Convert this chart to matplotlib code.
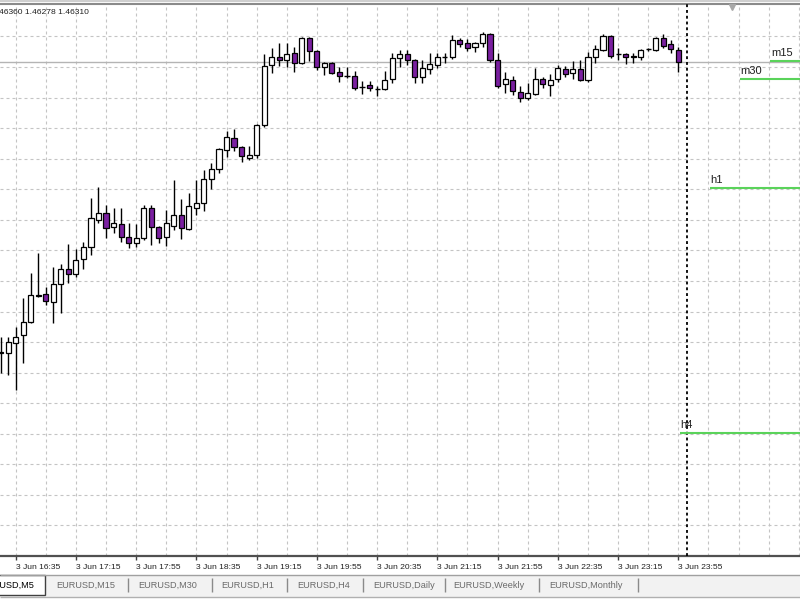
import matplotlib
matplotlib.use('Agg')
import matplotlib.pyplot as plt
import numpy as np
from matplotlib.patches import Rectangle

# ---------------- data (EURUSD M5, 3 Jun, bars from 16:25 to 23:55) ----------------
opens = [
    1.45343, 1.45340, 1.45373, 1.45400, 1.45443, 1.45533, 1.45537, 1.45510, 1.45570, 1.45620,
    1.45603, 1.45653, 1.45693, 1.45783, 1.45807, 1.45760, 1.45770, 1.45727, 1.45707, 1.45723,
    1.45823, 1.45760, 1.45727, 1.45763, 1.45800, 1.45753, 1.45823, 1.45840, 1.45920, 1.45953,
    1.46017, 1.46057, 1.46027, 1.45990, 1.46000, 1.46100, 1.46300, 1.46327, 1.46317, 1.46340,
    1.46307, 1.46390, 1.46347, 1.46293, 1.46307, 1.46277, 1.46263, 1.46263, 1.46227, 1.46233,
    1.46220, 1.46220, 1.46253, 1.46323, 1.46337, 1.46317, 1.46260, 1.46287, 1.46300, 1.46327,
    1.46327, 1.46383, 1.46373, 1.46360, 1.46373, 1.46403, 1.46317, 1.46237, 1.46250, 1.46210,
    1.46190, 1.46203, 1.46253, 1.46233, 1.46253, 1.46287, 1.46273, 1.46287, 1.46250, 1.46327,
    1.46350, 1.46397, 1.46337, 1.46337, 1.46330, 1.46327, 1.46353, 1.46350, 1.46390, 1.46370,
    1.46350]
highs = [
    1.45393, 1.45393, 1.45427, 1.45523, 1.45607, 1.45673, 1.45560, 1.45627, 1.45637, 1.45703,
    1.45687, 1.45710, 1.45857, 1.45893, 1.45833, 1.45823, 1.45823, 1.45773, 1.45770, 1.45833,
    1.45833, 1.45763, 1.45817, 1.45917, 1.45853, 1.45873, 1.45917, 1.45950, 1.45973, 1.46023,
    1.46080, 1.46087, 1.46030, 1.46030, 1.46103, 1.46337, 1.46357, 1.46373, 1.46373, 1.46360,
    1.46393, 1.46393, 1.46350, 1.46310, 1.46310, 1.46293, 1.46293, 1.46280, 1.46247, 1.46247,
    1.46230, 1.46280, 1.46340, 1.46350, 1.46350, 1.46320, 1.46317, 1.46340, 1.46340, 1.46340,
    1.46400, 1.46390, 1.46387, 1.46377, 1.46410, 1.46407, 1.46340, 1.46277, 1.46263, 1.46230,
    1.46240, 1.46290, 1.46260, 1.46270, 1.46300, 1.46297, 1.46313, 1.46317, 1.46343, 1.46367,
    1.46403, 1.46400, 1.46357, 1.46340, 1.46340, 1.46353, 1.46357, 1.46393, 1.46403, 1.46383,
    1.46360]
lows = [
    1.45273, 1.45267, 1.45217, 1.45307, 1.45440, 1.45527, 1.45500, 1.45440, 1.45473, 1.45573,
    1.45593, 1.45620, 1.45667, 1.45773, 1.45723, 1.45740, 1.45710, 1.45690, 1.45693, 1.45717,
    1.45700, 1.45707, 1.45697, 1.45750, 1.45720, 1.45750, 1.45800, 1.45813, 1.45887, 1.45940,
    1.45993, 1.46013, 1.45977, 1.45983, 1.45990, 1.46093, 1.46273, 1.46297, 1.46293, 1.46277,
    1.46303, 1.46313, 1.46283, 1.46267, 1.46270, 1.46243, 1.46257, 1.46217, 1.46203, 1.46213,
    1.46197, 1.46217, 1.46240, 1.46293, 1.46300, 1.46240, 1.46240, 1.46270, 1.46290, 1.46307,
    1.46320, 1.46360, 1.46347, 1.46343, 1.46360, 1.46310, 1.46223, 1.46207, 1.46200, 1.46177,
    1.46183, 1.46200, 1.46223, 1.46197, 1.46243, 1.46260, 1.46253, 1.46247, 1.46243, 1.46307,
    1.46347, 1.46323, 1.46317, 1.46303, 1.46307, 1.46317, 1.46347, 1.46347, 1.46357, 1.46340,
    1.46278]
closes = [
    1.45340, 1.45377, 1.45393, 1.45443, 1.45533, 1.45530, 1.45513, 1.45570, 1.45620, 1.45603,
    1.45650, 1.45693, 1.45790, 1.45807, 1.45757, 1.45773, 1.45727, 1.45707, 1.45723, 1.45823,
    1.45760, 1.45723, 1.45773, 1.45800, 1.45757, 1.45830, 1.45840, 1.45920, 1.45953, 1.46020,
    1.46060, 1.46027, 1.45997, 1.46000, 1.46100, 1.46297, 1.46327, 1.46317, 1.46337, 1.46307,
    1.46390, 1.46347, 1.46293, 1.46307, 1.46273, 1.46263, 1.46263, 1.46223, 1.46227, 1.46223,
    1.46220, 1.46250, 1.46323, 1.46337, 1.46317, 1.46260, 1.46290, 1.46303, 1.46327, 1.46327,
    1.46383, 1.46370, 1.46357, 1.46373, 1.46403, 1.46317, 1.46230, 1.46253, 1.46213, 1.46190,
    1.46207, 1.46253, 1.46237, 1.46250, 1.46290, 1.46270, 1.46287, 1.46250, 1.46327, 1.46353,
    1.46397, 1.46330, 1.46337, 1.46327, 1.46327, 1.46350, 1.46353, 1.46390, 1.46363, 1.46353,
    1.46310]

tick_labels = ["3 Jun 16:35", "3 Jun 17:15", "3 Jun 17:55", "3 Jun 18:35", "3 Jun 19:15",
               "3 Jun 19:55", "3 Jun 20:35", "3 Jun 21:15", "3 Jun 21:55", "3 Jun 22:35",
               "3 Jun 23:15", "3 Jun 23:55"]
level_names = ["h4", "h1", "m30", "m15"]
level_prices = [1.45073, 1.45890, 1.46253, 1.46313]
info_text = "46360 1.46278 1.46310"
tabs = ["EURUSD,M15", "EURUSD,M30", "EURUSD,H1", "EURUSD,H4",
        "EURUSD,Daily", "EURUSD,Weekly", "EURUSD,Monthly"]
active_tab = "EURUSD,M5"

# ---------------- style ----------------
plt.rcParams['font.family'] = ['Liberation Sans', 'DejaVu Sans']
PURPLE = '#7a1fa0'
GRID = '#c4c4c4'
GREEN = '#5ad35a'

W, H = 800, 600
fig = plt.figure(figsize=(8, 6), dpi=100)
fig.patch.set_facecolor('white')
top_px, bot_px = 4, 556
ax = fig.add_axes([0, 1 - bot_px / H, 1, (bot_px - top_px) / H])

o = np.array(opens); h = np.array(highs); l = np.array(lows); c = np.array(closes)
x = np.arange(len(c))
up = c > o
dn = c < o
eq = c == o
bw = 0.68

ax.vlines(x, l, h, color='black', lw=1.0, zorder=3)
ax.bar(x[up], (c - o)[up], bottom=o[up], width=bw, color='white',
       edgecolor='black', linewidth=0.9, zorder=4)
ax.bar(x[dn], (o - c)[dn], bottom=c[dn], width=bw, color=PURPLE,
       edgecolor='black', linewidth=0.9, zorder=4)
ax.hlines(o[eq], x[eq] - bw / 2, x[eq] + bw / 2, color='black', lw=1.0, zorder=4)

# scale: 30000 px per 1.0 price (3 px per pip)
ppx = 1 / 30000
ref_y = 62
y_top = closes[-1] + (ref_y - top_px) * ppx
y_bot = closes[-1] - (bot_px - ref_y) * ppx
ax.set_ylim(y_bot, y_top)
x0 = -0.08
x1 = x0 + 800 / 7.53
ax.set_xlim(x0, x1)

# grid
gstep = 30.56 * ppx
ax.set_yticks([y_bot + k * gstep for k in range(1, 18)])
ax.tick_params(axis='y', left=False, labelleft=False)
major = np.arange(2, len(c), 8)
ax.set_xticks(major)
ax.set_xticklabels(tick_labels[:len(major)], ha='left', fontsize=6.1, color='#202020')
ax.set_xticks(np.arange(2, 108, 4), minor=True)
ax.tick_params(axis='x', which='major', length=3, width=1, color='#404040', pad=2.5)
ax.tick_params(axis='x', which='minor', length=0)
ax.set_axisbelow(True)
ax.grid(True, which='both', color=GRID, linestyle=(0, (2.7, 2.7)), lw=0.8)

for s in ['left', 'right']:
    ax.spines[s].set_visible(False)
ax.spines['bottom'].set_color('#505050')
ax.spines['bottom'].set_linewidth(1.6)
ax.spines['top'].set_color('#8a8a8a')
ax.spines['top'].set_linewidth(1.5)

# bid line
ax.axhline(closes[-1], color='#b4b4b4', lw=1.0, zorder=2)
# vertical dotted line
ax.axvline(91.2, color='black', lw=1.3, ls=(0, (1.6, 1.6)), zorder=5)

# level lines
starts = [90.2, 94.2, 98.2, 102.2]
for name, p, s in zip(level_names, level_prices, starts):
    ax.hlines(p, s, x1, color=GREEN, lw=1.5, zorder=6)
    ax.annotate(name, (s, p), xytext=(0.5, 3.6), textcoords='offset points',
                ha='left', va='baseline', fontsize=8, color='#202020', zorder=7)

# overlay for window decorations
ov = fig.add_axes([0, 0, 1, 1], zorder=10)
ov.set_xlim(0, W); ov.set_ylim(H, 0); ov.axis('off')
ov.patch.set_visible(False)
ov.hlines(1, 0, W, color='#cfcfcf', lw=1.5)
ov.plot(732, 6.5, marker='v', ms=4.5, color='#a8a8a8', mec='#a8a8a8')
ov.text(-1, 13, info_text, fontsize=6.1, ha='left', va='center', color='#202020')

# tab bar
ov.add_patch(Rectangle((0, 575), W, 22, facecolor='#f2f2f2', edgecolor='none'))
ov.hlines(575, 0, W, color='#a0a0a0', lw=1.0)
ov.hlines(597, 0, W, color='#b0b0b0', lw=1.0)
ov.add_patch(Rectangle((-2, 575), 47, 20, facecolor='white', edgecolor='#404040', lw=1.0))
ov.text(34, 585, active_tab, fontsize=6.6, ha='right', va='center', color='black')
tab_x = [56, 138, 221, 297, 373, 453, 549]
sep_x = [128, 212, 287, 363, 445, 539, 638]
for t, tx, sx in zip(tabs, tab_x, sep_x):
    ov.text(tx, 585, t, fontsize=6.6, ha='left', va='center', color='#6a6a6a')
    ov.vlines(sx, 578, 592, color='#8a8a8a', lw=1.0)

fig.savefig('out.png', dpi=100, facecolor='white')
